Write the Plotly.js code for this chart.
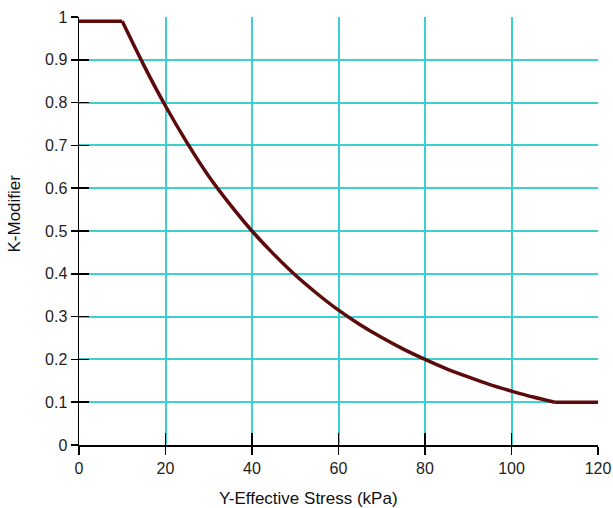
<!DOCTYPE html>
<html>
<head>
<meta charset="utf-8">
<script src="https://cdn.plot.ly/plotly-3.0.1.min.js"></script>
<style>html,body{margin:0;padding:0;background:#fff;}#chart{width:613px;height:508px;}</style>
</head>
<body>
<div id="chart"></div>
<script>
var stress = [0, 10, 15, 20, 25, 30, 35, 40, 45, 50, 55, 60, 65, 70, 75, 80, 85, 90, 95, 100, 105, 110, 120];
var kModifier = [0.99, 0.99, 0.887, 0.792, 0.706, 0.628, 0.561, 0.50, 0.446, 0.397, 0.354, 0.315, 0.281, 0.251, 0.224, 0.20, 0.178, 0.159, 0.141, 0.126, 0.112, 0.10, 0.10];
var xTicks = [0, 20, 40, 60, 80, 100, 120];
var yTicks = [0, 0.1, 0.2, 0.3, 0.4, 0.5, 0.6, 0.7, 0.8, 0.9, 1];
var yTickText = ['0', '0.1', '0.2', '0.3', '0.4', '0.5', '0.6', '0.7', '0.8', '0.9', '1'];
var xTitle = 'Y-Effective Stress (kPa)';
var yTitle = 'K-Modifier';

var tickFont = {family: 'Liberation Sans, Arial, sans-serif', size: 16, color: '#222'};
var titleFont = {family: 'Liberation Sans, Arial, sans-serif', size: 17, color: '#111'};
var grid = '#3dd0d0';
var lineStyle = {color: '#5c0a0a', width: 3.5};

var n = stress.length;
var traces = [
  {x: stress.slice(0, 2), y: kModifier.slice(0, 2), mode: 'lines', line: lineStyle, hoverinfo: 'skip', showlegend: false},
  {x: stress.slice(1, n - 1), y: kModifier.slice(1, n - 1), mode: 'lines', line: Object.assign({shape: 'spline', smoothing: 0.8}, lineStyle), hoverinfo: 'skip', showlegend: false},
  {x: stress.slice(n - 2), y: kModifier.slice(n - 2), mode: 'lines', line: lineStyle, hoverinfo: 'skip', showlegend: false},
  {x: [0], y: [0], xaxis: 'x2', yaxis: 'y2', mode: 'markers', marker: {opacity: 0}, hoverinfo: 'skip', showlegend: false}
];

var layout = {
  width: 613, height: 508,
  margin: {l: 79, r: 15, t: 17, b: 63},
  paper_bgcolor: '#fff', plot_bgcolor: '#fff',
  font: tickFont,
  xaxis: {
    range: [0, 120], tickvals: xTicks, ticktext: xTicks.map(String),
    showgrid: true, gridcolor: grid, gridwidth: 2, zeroline: false,
    showline: true, linecolor: '#000', linewidth: 1.5,
    ticks: 'outside', ticklen: 8, tickwidth: 1.5, tickcolor: '#000',
    tickfont: tickFont, automargin: false
  },
  yaxis: {
    range: [0, 1], tickvals: yTicks, ticktext: yTickText,
    showgrid: true, gridcolor: grid, gridwidth: 2, zeroline: false,
    showline: true, linecolor: '#000', linewidth: 1.5,
    ticks: 'outside', ticklen: 7, tickwidth: 1.5, tickcolor: '#000',
    tickfont: tickFont, automargin: false
  },
  xaxis2: {
    overlaying: 'x', range: [0, 120], tickvals: xTicks, showticklabels: false,
    showgrid: false, zeroline: false, showline: false,
    ticks: 'inside', ticklen: 12, tickwidth: 1.5, tickcolor: '#000'
  },
  yaxis2: {
    overlaying: 'y', range: [0, 1], tickvals: yTicks, showticklabels: false,
    showgrid: false, zeroline: false, showline: false,
    ticks: 'inside', ticklen: 10, tickwidth: 1.5, tickcolor: '#000'
  },
  annotations: [
    {text: xTitle, xref: 'paper', yref: 'paper', x: 0.442, y: -0.124, xanchor: 'center', yanchor: 'middle', showarrow: false, font: titleFont},
    {text: yTitle, xref: 'paper', yref: 'paper', x: -0.124, y: 0.54, xanchor: 'center', yanchor: 'middle', textangle: -90, showarrow: false, font: titleFont}
  ]
};

Plotly.newPlot('chart', traces, layout, {displayModeBar: false, staticPlot: true});
</script>
</body>
</html>
